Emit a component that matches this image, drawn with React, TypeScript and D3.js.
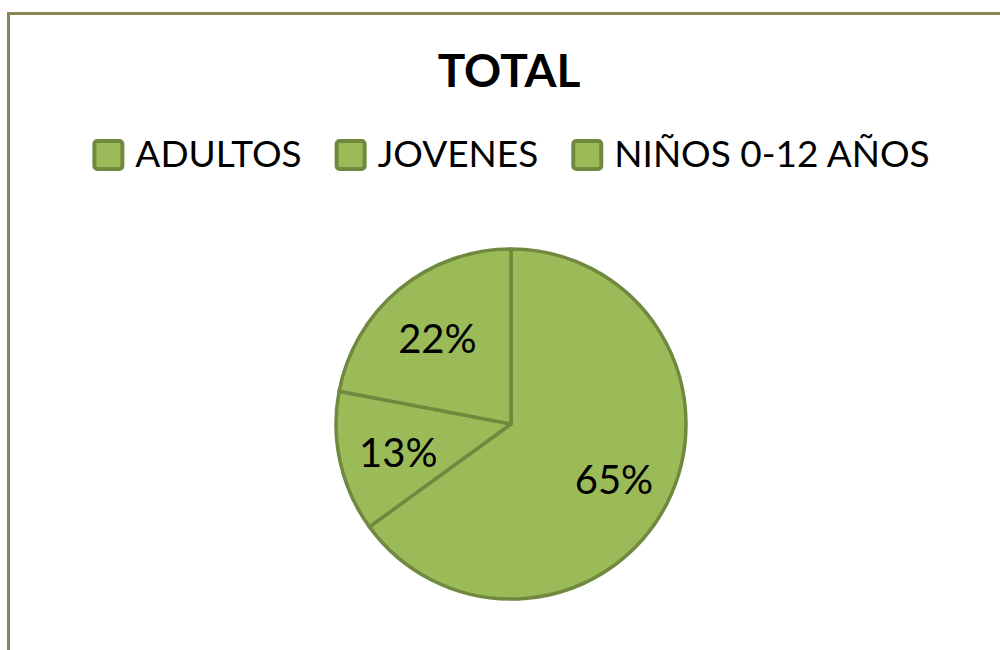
import React, { useRef, useEffect } from 'react'
import * as d3 from 'd3'

const categories = ['ADULTOS', 'JOVENES', 'NIÑOS 0-12 AÑOS']
const values = [65, 13, 22]
const title = 'TOTAL'

const FILL = '#9BBB59'
const EDGE = '#71893F'
const FONT = 'Lato, "Open Sans", sans-serif'

export default function App() {
  const svgRef = useRef<SVGSVGElement>(null)

  useEffect(() => {
    if (!svgRef.current) return
    const svg = d3.select(svgRef.current)
    svg.selectAll('*').remove()

    const width = 1000
    const cx = 511
    const cy = 424
    const r = 175

    // chart frame, cut off on the right and bottom like the source
    svg.append('path')
      .attr('d', `M8.5,1000 L8.5,13.5 L1100,13.5`)
      .attr('fill', 'none')
      .attr('stroke', '#8B8650')
      .attr('stroke-width', 3)

    svg.append('text')
      .attr('x', 509)
      .attr('y', 87)
      .attr('text-anchor', 'middle')
      .attr('font-family', FONT)
      .attr('font-weight', 'bold')
      .attr('font-size', 46)
      .attr('fill', '#000')
      .text(title)

    // legend, measured then centred
    const legend = svg.append('g')
    const sw = 28
    const items = categories.map((c) => {
      const g = legend.append('g')
      g.append('rect')
        .attr('x', 0).attr('y', -26)
        .attr('width', sw).attr('height', sw)
        .attr('rx', 3)
        .attr('fill', FILL)
        .attr('stroke', EDGE)
        .attr('stroke-width', 4)
      const t = g.append('text')
        .attr('x', sw + 13)
        .attr('y', 0)
        .attr('font-family', FONT)
        .attr('font-size', 37)
        .attr('fill', '#000')
        .text(c)
      const w = sw + 13 + (t.node() as SVGTextElement).getComputedTextLength()
      return { g, w }
    })
    const gap = 35
    const total = d3.sum(items, (d) => d.w) + gap * (items.length - 1)
    let x = 512 - total / 2
    items.forEach((it) => {
      it.g.attr('transform', `translate(${x},167)`)
      x += it.w + gap
    })

    const pie = d3.pie<number>().sort(null).value((d) => d)
    const arcs = pie(values)
    const arc = d3.arc<d3.PieArcDatum<number>>().innerRadius(0).outerRadius(r)
    const labelArc = d3.arc<d3.PieArcDatum<number>>().innerRadius(r * 0.66).outerRadius(r * 0.66)

    const g = svg.append('g').attr('transform', `translate(${cx},${cy})`)
    g.selectAll('path.slice')
      .data(arcs)
      .join('path')
      .attr('class', 'slice')
      .attr('d', arc)
      .attr('fill', FILL)
      .attr('stroke', EDGE)
      .attr('stroke-width', 3.5)
      .attr('stroke-linejoin', 'round')

    g.selectAll('text.lbl')
      .data(arcs)
      .join('text')
      .attr('class', 'lbl')
      .attr('transform', (d) => `translate(${labelArc.centroid(d)})`)
      .attr('text-anchor', 'middle')
      .attr('dy', '0.45em')
      .attr('font-family', FONT)
      .attr('font-size', 40)
      .attr('fill', '#000')
      .text((d) => `${d.data}%`)

    svg.attr('width', width)
  }, [])

  return (
    <div style={{ position: 'absolute', left: 0, top: 0, width: 1000, height: 650, background: '#fff' }}>
      <svg ref={svgRef} width={1000} height={650} style={{ display: 'block' }} />
    </div>
  )
}
